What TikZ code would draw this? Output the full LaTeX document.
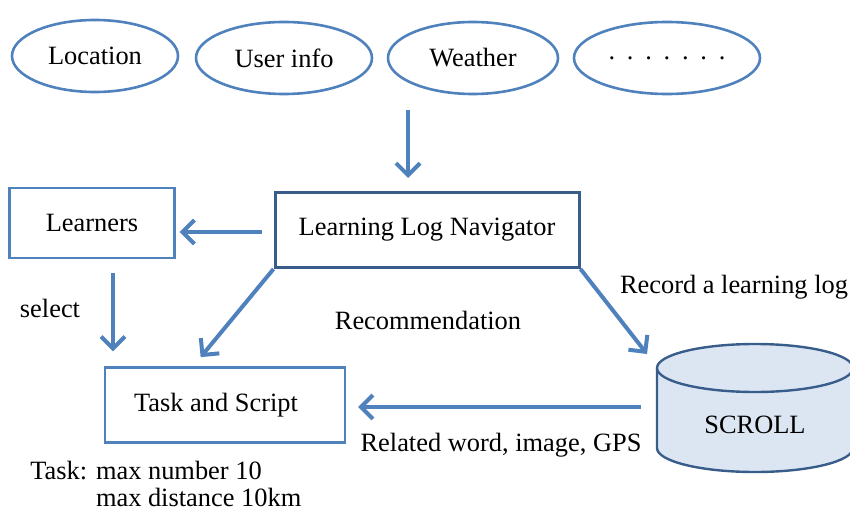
\documentclass[tikz,border=0pt]{standalone}
\usepackage{fontspec}
\setmainfont{Liberation Serif}
\usetikzlibrary{shapes.geometric,arrows.meta}
\definecolor{lineblue}{RGB}{79,129,189}
\definecolor{darkblue}{RGB}{56,93,138}
\definecolor{dbfill}{RGB}{220,230,242}
\tikzset{every node/.style={font=\fontsize{13.2}{16}\selectfont, inner sep=0pt},
  bubble/.style={ellipse, draw=lineblue, line width=1.3pt, minimum height=36pt},
  box/.style={rectangle, draw=lineblue, line width=1.1pt},
  flow/.style={draw=lineblue, line width=2pt, -{Straight Barb[length=6pt,width=12pt]}}}

\begin{document}
\begin{tikzpicture}[x=0.5pt,y=-0.5pt]
  \useasboundingbox (0,0) rectangle (850,513);
  % context sources
  \node[bubble, minimum width=83pt] (loc) at (95,56) {Location};
  \node[bubble, minimum width=88pt] (user) at (284,58) {User info};
  \node[bubble, minimum width=85pt] (weather) at (473,58) {Weather};
  \node[bubble, minimum width=93pt] (more) at (667,58) {.\hspace{5.9pt}.\hspace{5.9pt}.\hspace{5.9pt}.\hspace{5.9pt}.\hspace{5.9pt}.\hspace{5.9pt}.};
  % main boxes
  \node[box, draw=darkblue, line width=1.5pt, minimum width=152pt, minimum height=37.5pt] (nav) at (427,230) {Learning Log Navigator};
  \node[box, minimum width=82.5pt, minimum height=35pt] (learners) at (92,223) {Learners};
  \node[box, minimum width=120pt, minimum height=37.5pt] (task) at (225,405) {\hspace*{-9pt}Task and Script};
  % database
  \fill[dbfill] (657,368) -- (657,448) arc[start angle=180, end angle=0, x radius=98, y radius=24]
    -- (853,368) arc[start angle=0, end angle=180, x radius=98, y radius=24] -- cycle;
  \draw[darkblue, line width=1.2pt] (657,368) -- (657,448) arc[start angle=180, end angle=0, x radius=98, y radius=24] -- (853,368);
  \draw[darkblue, line width=1.2pt, fill=dbfill] (755,368) ellipse[x radius=98, y radius=24];
  \node (scroll) at (755,425) {SCROLL};
  % labels
  \node (select) at (50,308) {select};
  \node (recom) at (428,320) {Recommendation};
  \node (record) at (734,287) {Record a learning log};
  \node (related) at (501,445) {Related word, image, GPS};
  \node[anchor=north west, align=left, font=\fontsize{13.2}{13.5}\selectfont] (taskinfo) at (30,461)
    {Task: max number 10\\\phantom{Task: }max distance 10km};
  % connectors
  \coordinate (ctx) at (408,110);
  \coordinate (recin) at (647,354);
  \coordinate (relout) at (641,407);
  \draw[flow, shorten >=6.5pt] (ctx) -- (ctx |- nav.north);
  \draw[flow, shorten <=6pt, shorten >=2pt] (nav.west |- 0,232) -- (learners.east |- 0,232);
  \draw[flow, shorten <=7pt, shorten >=7.5pt] ([xshift=10.5pt]learners.south) -- ([xshift=10.5pt]learners.south |- task.north);
  \draw[flow, shorten >=6pt] (nav.south west) -- ([xshift=-16pt]task.north);
  \draw[flow] (nav.south east) -- (recin);
  \draw[flow, shorten >=6pt] (relout) -- (task.east |- relout);
\end{tikzpicture}
\end{document}
